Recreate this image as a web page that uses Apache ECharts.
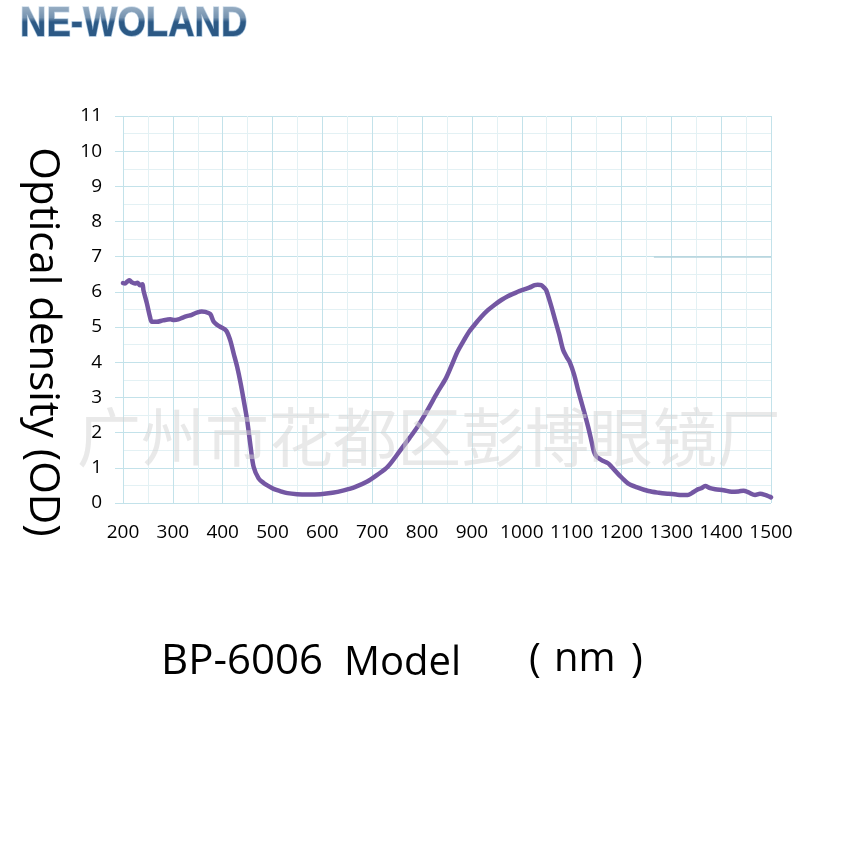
<!DOCTYPE html>
<html>
<head>
<meta charset="utf-8">
<script src="https://cdn.jsdelivr.net/npm/echarts@6/dist/echarts.min.js"></script>
<style>html,body{margin:0;padding:0;background:#fff;}#c{width:848px;height:848px;}</style>
</head>
<body>
<div id="c"></div>
<script>
const wavelength = [200,204,209,213,218,224,229,234,239,241,248,254,258,268,280,295,303,311,320,328,338,348,358,365,375,382,390,395,407,415,422,429,436,442,449,456,462,472,482,492,502,515,530,549,570,596,620,643,665,690,710,731,757,775,791,810,831,848,861,871,885,895,905,918,932,945,959,972,985,995,1005,1015,1026,1032,1039,1045,1049,1058,1066,1075,1083,1090,1096,1105,1113,1123,1133,1140,1145,1150,1160,1173,1180,1195,1213,1230,1254,1275,1294,1310,1321,1333,1341,1351,1360,1368,1378,1388,1405,1421,1435,1445,1455,1468,1478,1488,1497,1500];
const od = [6.25,6.24,6.30,6.33,6.27,6.24,6.26,6.19,6.22,6.05,5.67,5.30,5.15,5.15,5.19,5.22,5.20,5.22,5.27,5.31,5.35,5.41,5.44,5.43,5.37,5.15,5.05,5.01,4.90,4.63,4.25,3.87,3.40,2.93,2.36,1.60,1.03,0.70,0.57,0.48,0.40,0.34,0.28,0.25,0.24,0.25,0.29,0.36,0.45,0.61,0.80,1.03,1.51,1.85,2.17,2.62,3.15,3.55,3.97,4.30,4.65,4.88,5.06,5.28,5.48,5.63,5.77,5.88,5.96,6.02,6.07,6.12,6.19,6.20,6.19,6.12,6.05,5.65,5.25,4.80,4.35,4.15,4.01,3.65,3.21,2.70,2.17,1.75,1.45,1.32,1.22,1.13,1.03,0.80,0.56,0.45,0.34,0.29,0.26,0.24,0.23,0.23,0.28,0.37,0.42,0.48,0.42,0.39,0.36,0.32,0.33,0.35,0.30,0.23,0.26,0.23,0.18,0.16];
const xTicks = [200,300,400,500,600,700,800,900,1000,1100,1200,1300,1400,1500];
const yTicks = [0,1,2,3,4,5,6,7,8,9,10,11];
const logoText = 'NE-WOLAND';
const yTitle = 'Optical density (OD)';
const watermark = '广州市花都区彭博眼镜厂';
const modelName = 'BP-6006';

const chart = echarts.init(document.getElementById('c'), null, {renderer: 'canvas'});
const FONT = '"Open Sans", "Liberation Sans", sans-serif';
chart.setOption({
  animation: false,
  backgroundColor: '#ffffff',
  grid: {left: 123, right: 77, top: 116, bottom: 345, containLabel: false},
  xAxis: {
    type: 'value', min: xTicks[0], max: xTicks[xTicks.length-1], interval: 100,
    axisLine: {show: false}, axisTick: {show: false},
    axisLabel: {fontFamily: FONT, fontSize: 19, color: '#000', margin: 20,
      formatter: v => xTicks.includes(v) ? String(v) : ''},
    splitLine: {show: true, lineStyle: {color: '#c3e2ea', width: 1}},
    minorTick: {show: false, splitNumber: 2},
    minorSplitLine: {show: true, lineStyle: {color: '#e3f1f4', width: 1}}
  },
  yAxis: {
    type: 'value', min: yTicks[0], max: yTicks[yTicks.length-1], interval: 1,
    axisLine: {show: false},
    axisTick: {show: true, length: 8, lineStyle: {color: '#c3e2ea'}},
    axisLabel: {fontFamily: FONT, fontSize: 19, color: '#000', margin: 21,
      formatter: v => yTicks.includes(v) ? String(v) : ''},
    splitLine: {show: true, lineStyle: {color: '#c3e2ea', width: 1}},
    minorTick: {show: false, splitNumber: 2},
    minorSplitLine: {show: true, lineStyle: {color: '#e3f1f4', width: 1}}
  },
  series: [{
    type: 'line',
    data: wavelength.map((w, i) => [w, od[i]]),
    showSymbol: false,
    smooth: 0.3,
    lineStyle: {color: '#7457a3', width: 4.5, cap: 'round', join: 'round'},
    clip: false,
    z: 3,
    markLine: {
      silent: true, symbol: 'none', label: {show: false},
      lineStyle: {color: '#b5d3dc', width: 1.5, type: 'solid'},
      data: [[{coord: [1265, 7]}, {coord: [1500, 7]}]]
    }
  }],
  graphic: [
    {type: 'text', x: 20, y: 3, z: 10, scaleX: 0.87,
      style: {text: logoText, fontFamily: '"Liberation Sans", Arial, sans-serif', fontWeight: 'bold', fontSize: 42,
        fill: '#2c5985', stroke: '#9dbcd8', lineWidth: 1.5}},
    {type: 'rect', z: 11, silent: true, shape: {x: 15, y: 4, width: 240, height: 18},
      style: {fill: {type: 'linear', x: 0, y: 0, x2: 0, y2: 1, colorStops: [
        {offset: 0, color: 'rgba(255,255,255,0.55)'}, {offset: 0.75, color: 'rgba(255,255,255,0.35)'},
        {offset: 1, color: 'rgba(255,255,255,0)'}]}}},
    {type: 'text', x: 42, y: 342, rotation: -Math.PI/2, z: 10,
      style: {text: yTitle, fontFamily: FONT, fontSize: 42, fill: '#000', align: 'center', verticalAlign: 'middle'}},
    {type: 'text', x: 429, y: 437, z: 20, silent: true,
      style: {text: watermark, fontFamily: '"Noto Sans CJK SC", sans-serif', fontSize: 64, fill: 'rgba(212,212,212,0.5)', align: 'center', verticalAlign: 'middle'}},
    {type: 'text', x: 161, y: 641, z: 10,
      style: {text: modelName, fontFamily: FONT, fontSize: 42, fill: '#000', align: 'left', verticalAlign: 'top'}},
    {type: 'text', x: 344, y: 644, z: 10,
      style: {text: 'Model', fontFamily: FONT, fontSize: 40, fill: '#000', align: 'left', verticalAlign: 'top'}},
    {type: 'text', x: 529, y: 641, z: 10,
      style: {text: '(', fontFamily: FONT, fontSize: 40, fill: '#000', align: 'left', verticalAlign: 'top'}},
    {type: 'text', x: 554, y: 640, z: 10,
      style: {text: 'nm', fontFamily: FONT, fontSize: 40, fill: '#000', align: 'left', verticalAlign: 'top'}},
    {type: 'text', x: 631, y: 641, z: 10,
      style: {text: ')', fontFamily: FONT, fontSize: 40, fill: '#000', align: 'left', verticalAlign: 'top'}}
  ]
});
</script>
</body>
</html>
